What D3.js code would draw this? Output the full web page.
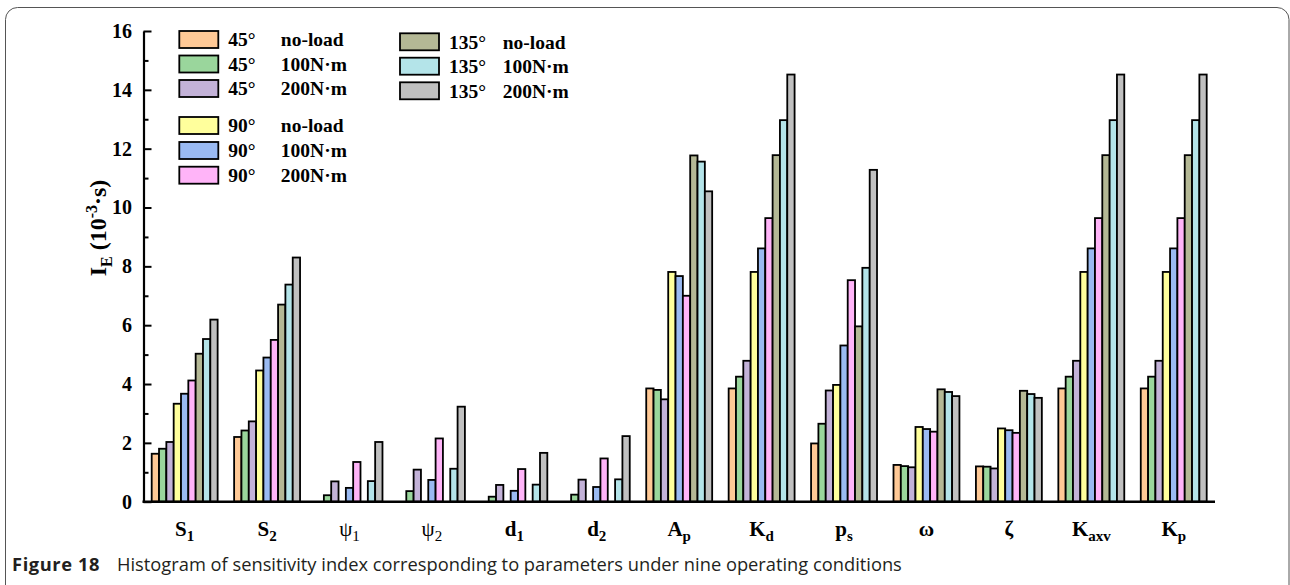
<!DOCTYPE html>
<html>
<head>
<meta charset="utf-8">
<script src="https://cdn.jsdelivr.net/npm/d3@7"></script>
<style>
  body { margin: 0; background: #fff; }
  svg { display: block; }
</style>
</head>
<body>
<svg id="chart"></svg>
<script>
// categories on the x axis (main symbol + subscript)
let categories = ["S1", "S2", "psi1", "psi2", "d1", "d2", "Ap", "Kd", "ps", "omega", "zeta", "Kaxv", "Kp"];
let labelMain = ["S", "S", "ψ", "ψ", "d", "d", "A", "K", "p", "ω", "ζ", "K", "K"];
let labelSub = ["1", "2", "1", "2", "1", "2", "p", "d", "s", "", "", "axv", "p"];

// nine operating conditions
let seriesAngle = ["45°", "45°", "45°", "90°", "90°", "90°", "135°", "135°", "135°"];
let seriesLoad = ["no-load", "100N·m", "200N·m", "no-load", "100N·m", "200N·m", "no-load", "100N·m", "200N·m"];
let seriesColors = ["#FFC996", "#9AD69C", "#C3B2D8", "#FFFF9C", "#9ABAF2", "#FFB4F8", "#B4B895", "#B4E4E9", "#C0C0C0"];

// sensitivity index I_E (10^-3 s), one array per condition, in category order
let deg45_noload = [1.63, 2.20, 0, 0, 0, 0, 3.85, 3.85, 1.98, 1.25, 1.20, 3.85, 3.85];
let deg45_100 = [1.80, 2.42, 0.22, 0.36, 0.17, 0.24, 3.80, 4.25, 2.65, 1.21, 1.19, 4.25, 4.25];
let deg45_200 = [2.03, 2.73, 0.69, 1.09, 0.57, 0.75, 3.48, 4.79, 3.78, 1.17, 1.13, 4.79, 4.79];
let deg90_noload = [3.33, 4.46, 0, 0, 0, 0, 7.81, 7.81, 3.97, 2.54, 2.49, 7.81, 7.81];
let deg90_100 = [3.67, 4.90, 0.47, 0.74, 0.37, 0.50, 7.67, 8.61, 5.31, 2.47, 2.43, 8.61, 8.61];
let deg90_200 = [4.12, 5.50, 1.35, 2.15, 1.11, 1.47, 7.00, 9.64, 7.53, 2.38, 2.34, 9.64, 9.64];
let deg135_noload = [5.03, 6.70, 0, 0, 0, 0, 11.77, 11.78, 5.96, 3.82, 3.77, 11.78, 11.78];
let deg135_100 = [5.53, 7.38, 0.70, 1.12, 0.58, 0.76, 11.56, 12.97, 7.95, 3.73, 3.66, 12.97, 12.97];
let deg135_200 = [6.19, 8.30, 2.03, 3.23, 1.66, 2.23, 10.55, 14.52, 11.28, 3.59, 3.53, 14.52, 14.52];

let seriesValues = [deg45_noload, deg45_100, deg45_200, deg90_noload, deg90_100, deg90_200,
                    deg135_noload, deg135_100, deg135_200];

let yTicks = [0, 2, 4, 6, 8, 10, 12, 14, 16];
let yMinorTicks = [1, 3, 5, 7, 9, 11, 13, 15];

let width = 1290;
let height = 585;
let serif = "'Liberation Serif', 'Times New Roman', serif";

let svg = d3.select("#chart").attr("width", width).attr("height", height);

// figure frame (rounded box, runs off the bottom)
svg.append("rect")
  .attr("x", 5.5).attr("y", 7.5)
  .attr("width", 1283.5).attr("height", 640)
  .attr("rx", 12)
  .attr("fill", "none")
  .attr("stroke", "#555")
  .attr("stroke-width", 1);

let axisLeftX = 143.5;
let axisRightX = 1215;

let yScale = d3.scaleLinear().domain([0, 16]).range([501.7, 31]);

let x0 = d3.scaleBand()
  .domain(categories)
  .range([151.7, 1206.7])
  .paddingInner(0.2)
  .paddingOuter(0);

let x1 = d3.scaleBand()
  .domain(d3.range(seriesValues.length))
  .range([0, x0.bandwidth()]);

// bars
let groups = svg.append("g").selectAll("g")
  .data(categories)
  .enter()
  .append("g")
  .attr("transform", (d) => "translate(" + x0(d) + ",0)");

groups.selectAll("rect")
  .data((d, ci) => seriesValues.map((vals, si) => ({ si: si, v: vals[ci] })).filter((e) => e.v > 0))
  .enter()
  .append("rect")
  .attr("x", (d) => x1(d.si))
  .attr("y", (d) => yScale(d.v))
  .attr("width", x1.bandwidth())
  .attr("height", (d) => yScale(0) - yScale(d.v))
  .attr("fill", (d) => seriesColors[d.si])
  .attr("stroke", "#000")
  .attr("stroke-width", 1.8);

// y axis, ticks pointing inward
let yAxis = d3.axisLeft(yScale)
  .tickValues(yTicks)
  .tickSizeInner(-8)
  .tickSizeOuter(0)
  .tickPadding(11.5);

let yAxisG = svg.append("g")
  .attr("transform", "translate(" + axisLeftX + ",0)")
  .call(yAxis);
yAxisG.select(".domain").attr("stroke", "#000").attr("stroke-width", 2.2);
yAxisG.selectAll(".tick line").attr("stroke", "#000").attr("stroke-width", 2);
yAxisG.selectAll(".tick text")
  .attr("fill", "#000")
  .style("font-family", serif)
  .style("font-weight", "bold")
  .style("font-size", "20px");

let yMinor = d3.axisLeft(yScale)
  .tickValues(yMinorTicks)
  .tickSize(-5)
  .tickFormat("");
let yMinorG = svg.append("g")
  .attr("transform", "translate(" + axisLeftX + ",0)")
  .call(yMinor);
yMinorG.select(".domain").remove();
yMinorG.selectAll(".tick line").attr("stroke", "#000").attr("stroke-width", 2);

// y title
let yTitle = svg.append("text")
  .attr("transform", "translate(106,228) rotate(-90)")
  .attr("text-anchor", "middle")
  .style("font-family", serif)
  .style("font-weight", "bold")
  .style("font-size", "24px")
  .attr("fill", "#000");
yTitle.append("tspan").text("I");
yTitle.append("tspan").attr("dy", 6).style("font-size", "16px").text("E");
yTitle.append("tspan").attr("dy", -6).text(" (10");
yTitle.append("tspan").attr("dy", -9).style("font-size", "16px").text("-3");
yTitle.append("tspan").attr("dy", 9).text("·s)");

// x axis with subscripted labels
let xAxis = d3.axisBottom(x0).tickSize(0);
let xAxisG = svg.append("g")
  .attr("transform", "translate(0," + yScale(0) + ")")
  .call(xAxis);
xAxisG.select(".domain").remove();
xAxisG.selectAll(".tick text")
  .attr("y", 34)
  .attr("dy", null)
  .attr("fill", "#000")
  .style("font-family", serif)
  .style("font-weight", "bold")
  .style("font-size", "21px")
  .each(function (d, i) {
    let t = d3.select(this).text("");
    let main = t.append("tspan").text(labelMain[i]);
    if (labelMain[i] === "ψ") main.style("font-weight", "normal");
    if (labelSub[i] !== "") {
      t.append("tspan")
        .attr("dy", 5)
        .style("font-size", "15px")
        .style("font-weight", labelMain[i] === "ψ" ? "normal" : "bold")
        .text(labelSub[i]);
    }
  });

svg.append("line")
  .attr("x1", axisLeftX - 1).attr("x2", axisRightX)
  .attr("y1", yScale(0)).attr("y2", yScale(0))
  .attr("stroke", "#000")
  .attr("stroke-width", 2.6);

// legend
let legendPos = [
  [179.3, 31], [179.3, 55.5], [179.3, 80],
  [179.3, 117], [179.3, 142], [179.3, 166.7],
  [400, 33.3], [400, 57.7], [400, 82.3]
];

let legend = svg.append("g").attr("id", "legend")
  .selectAll("g")
  .data(seriesAngle)
  .enter()
  .append("g")
  .attr("transform", (d, i) => "translate(" + legendPos[i][0] + "," + legendPos[i][1] + ")");

legend.append("rect")
  .attr("width", 39)
  .attr("height", 17)
  .attr("fill", (d, i) => seriesColors[i])
  .attr("stroke", "#000")
  .attr("stroke-width", 1.8);

legend.append("text")
  .attr("x", 49)
  .attr("y", 8.5)
  .attr("dy", "0.35em")
  .style("font-family", serif)
  .style("font-weight", "bold")
  .style("font-size", "19.5px")
  .text((d) => d);

legend.append("text")
  .attr("x", (d, i) => i < 6 ? 101.5 : 102.7)
  .attr("y", 8.5)
  .attr("dy", "0.35em")
  .style("font-family", serif)
  .style("font-weight", "bold")
  .style("font-size", "19.5px")
  .text((d, i) => seriesLoad[i]);

// caption
let caption = svg.append("text")
  .attr("y", 571)
  .style("font-family", "'Open Sans', 'Noto Sans', sans-serif")
  .style("font-size", "18.3px")
  .attr("fill", "#231f20");
caption.append("tspan").attr("x", 12)
  .style("font-weight", "bold")
  .style("letter-spacing", "0.6px")
  .text("Figure 18");
caption.append("tspan").attr("x", 117)
  .text("Histogram of sensitivity index corresponding to parameters under nine operating conditions");
</script>
</body>
</html>
